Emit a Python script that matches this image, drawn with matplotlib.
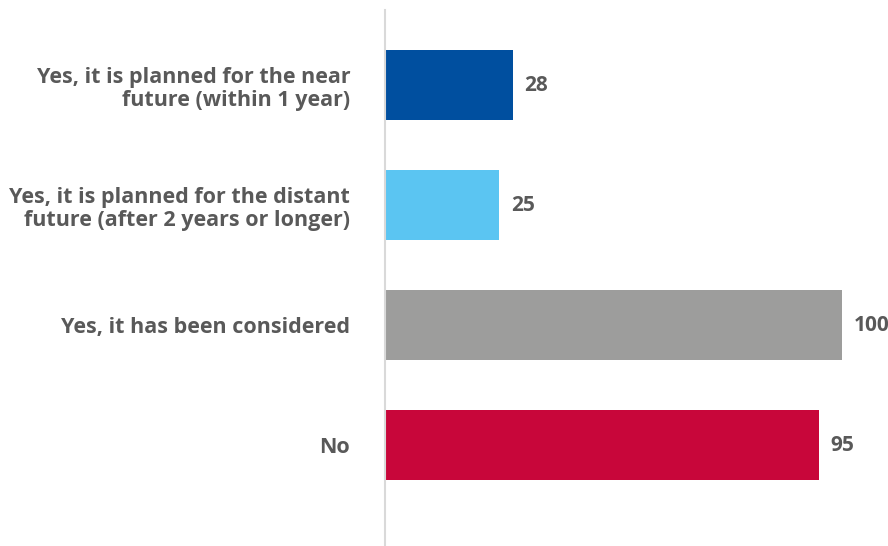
import matplotlib
matplotlib.use("Agg")
import matplotlib.pyplot as plt

categorias = [
    "Yes, it is planned for the near\nfuture (within 1 year)",
    "Yes, it is planned for the distant\nfuture (after 2 years or longer)",
    "Yes, it has been considered",
    "No",
]
valores = [28, 25, 100, 95]
colores = ["#004f9f", "#5bc5f2", "#9d9d9c", "#c8063a"]

gris_texto = "#595959"
plt.rcParams["font.family"] = ["Open Sans", "DejaVu Sans"]

fig = plt.figure(figsize=(8.88, 5.46), dpi=100)
ax = fig.add_axes([385 / 888, 0, 503 / 888, 536 / 546])

posiciones = list(range(len(categorias)))
ax.barh(posiciones, valores, height=0.583, color=colores, left=0)

for pos, valor in zip(posiciones, valores):
    ax.text(valor + 2.5, pos, str(valor), va="center", ha="left",
            fontsize=15, fontweight="bold", color=gris_texto)

ax.set_xlim(0, 110)
ax.set_ylim(3.84, -0.625)
ax.set_yticks(posiciones)
ax.set_yticklabels(categorias, fontsize=15.5, fontweight="bold",
                   color=gris_texto, linespacing=1.15)
ax.tick_params(axis="y", length=0, pad=25)
ax.set_xticks([])

for lado in ["top", "right", "bottom"]:
    ax.spines[lado].set_visible(False)
ax.spines["left"].set_color("#d9d9d9")
ax.spines["left"].set_linewidth(1.5)

fig.savefig("out.png", dpi=100)
